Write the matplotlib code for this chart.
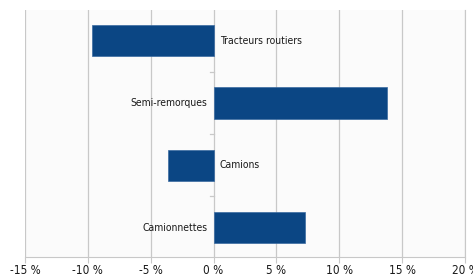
import matplotlib
matplotlib.use("Agg")
import matplotlib.pyplot as plt

categories = ["Tracteurs routiers", "Semi-remorques", "Camions", "Camionnettes"]
values = [-9.7, 13.8, -3.6, 7.3]
xticks = [-15, -10, -5, 0, 5, 10, 15, 20]
xtick_labels = ["-15 %", "-10 %", "-5 %", "0 %", "5 %", "10 %", "15 %", "20 %"]

plt.rcParams["font.family"] = ["DejaVu Sans"]
plt.rcParams["font.stretch"] = "condensed"

fig = plt.figure(figsize=(4.73, 2.76), dpi=100)
ax = fig.add_axes([25 / 473, 19 / 276, 440 / 473, 247 / 276])
ax.set_facecolor("#fbfbfb")

ypos = list(range(len(categories)))[::-1]
ax.barh(ypos, values, height=0.5, color="#0b4684", edgecolor="#3a6aa0", linewidth=0.5, zorder=3)

# labels sit on the other side of the zero line from the bar
for y, v, name in zip(ypos, values, categories):
    if v < 0:
        ax.text(0.5, y, name, ha="left", va="center", fontsize=7.5, color="#1a1a1a", zorder=4)
    else:
        ax.text(-0.5, y, name, ha="right", va="center", fontsize=7.5, color="#1a1a1a", zorder=4)

ax.set_xlim(-15, 20)
ax.set_ylim(-0.47, 3.49)
ax.set_xticks(xticks)
ax.set_xticklabels(xtick_labels, fontsize=8.5, color="#1a1a1a")
ax.grid(axis="x", color="#c8c8c8", linewidth=0.9, zorder=0)

# small separator ticks along the zero axis between categories
ax.set_yticks([])
for yb in [0.5, 1.5, 2.5]:
    ax.plot([-0.25, 0], [yb, yb], color="#c8c8c8", linewidth=0.9, zorder=2)

for s in ["top", "left"]:
    ax.spines[s].set_visible(False)
ax.spines["right"].set_color("#c8c8c8")
ax.spines["bottom"].set_color("#c8c8c8")
ax.tick_params(axis="x", length=4, color="#c8c8c8", pad=1)

fig.savefig("out.png", dpi=100)
